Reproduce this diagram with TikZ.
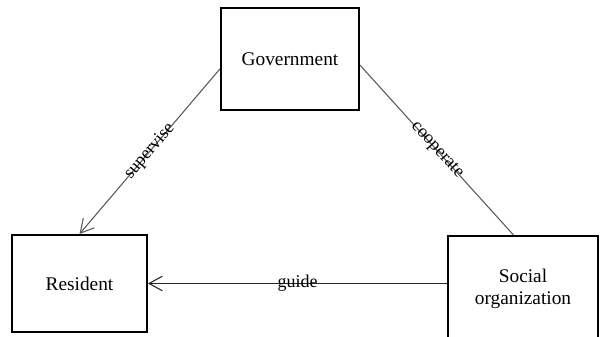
\documentclass[tikz,border=0pt]{standalone}
\usepackage{fontspec}
\setmainfont{Liberation Serif}
\usetikzlibrary{positioning,arrows.meta}

\begin{document}
\begin{tikzpicture}
		[x=0.75pt,y=-0.75pt,
		party/.style={rectangle,draw=black,line width=1.5pt,fill=white,align=center,inner sep=0pt,font=\fontsize{14.5}{17}\selectfont},
		link/.style={draw=black!65,line width=0.8pt},
		tag/.style={sloped,midway,inner sep=0pt,font=\fontsize{13.5}{15}\selectfont}]
		\useasboundingbox (0,0) rectangle (600,336);

		\node [party,minimum width=103.5pt,minimum height=76.5pt] (gov) at (290,59) {Government};
		\node [party,minimum width=101.25pt,minimum height=72.75pt] (res) [below left=92.25pt and 54pt of gov.south west,anchor=north east] {Resident};
		\node [party,minimum width=112.5pt,minimum height=79.5pt] (soc) [below right=93pt and 65.25pt of gov.south east,anchor=north west] {Social\\organization};

		\draw [link,-{Straight Barb[length=10pt,width=11pt]}] (gov.188) -- node [tag] {supervise} (res.north);
		\draw [link] (gov.355) -- node [tag] {cooperate} (soc.100);
		\draw [link,draw=black!85,-{Straight Barb[length=10pt,width=11pt]}] (soc.west |- res.east) -- node [tag] {guide} (res.east);

	\end{tikzpicture}
\end{document}
